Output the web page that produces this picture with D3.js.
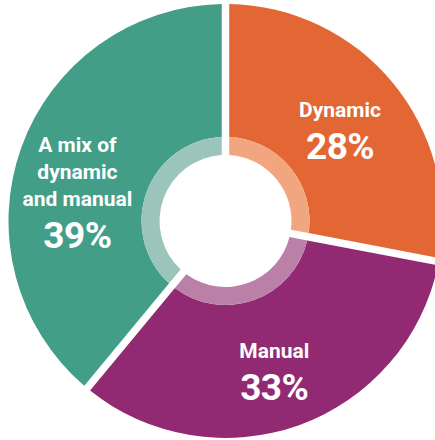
<!DOCTYPE html>
<html>
<head>
<meta charset="utf-8">
<script src="https://cdn.jsdelivr.net/npm/d3@7"></script>
<style>
  html, body { margin: 0; padding: 0; background: #fff; }
  svg { display: block; }
</style>
</head>
<body>
<svg id="chart" width="435" height="440"></svg>
<script>
// ---- data ----
const categories = ["Dynamic", "Manual", "A mix of dynamic and manual"];
const values = [28, 33, 39];
const labelLines = [["Dynamic"], ["Manual"], ["A mix of", "dynamic", "and manual"]];
const percentLabels = ["28%", "33%", "39%"];

// ---- styles / layout ----
const mainColors = ["#e26734", "#922a73", "#439e88"];
const ringColors = ["#f1a680", "#ba80a7", "#9bc5bb"];
const cx = 225.5, cy = 221;
const outerR = 217, ringOuterR = 84, innerR = 66;
const gap = 7.5;
const labelR = 150;
const labelShift = [[-1, 4.6], [-2, 9], [-7, 22]];

const svg = d3.select("#chart");
const g = svg.append("g").attr("transform", `translate(${cx},${cy})`);

const pie = d3.pie().sort(null).value(d => d.value);
const data = categories.map((c, i) => ({ name: c, value: values[i], i }));
const arcsData = pie(data);

const arcMain = d3.arc().innerRadius(ringOuterR).outerRadius(outerR)
  .padAngle(gap / outerR).padRadius(outerR);
const arcRing = d3.arc().innerRadius(innerR).outerRadius(ringOuterR)
  .padAngle(gap / outerR).padRadius(outerR);

g.selectAll("path.main").data(arcsData).join("path")
  .attr("class", "main")
  .attr("d", arcMain)
  .attr("fill", d => mainColors[d.data.i]);

g.selectAll("path.ring").data(arcsData).join("path")
  .attr("class", "ring")
  .attr("d", arcRing)
  .attr("fill", d => ringColors[d.data.i]);

const labelArc = d3.arc().innerRadius(labelR).outerRadius(labelR);
const nameSize = 21, pctSize = 37, lineH = 27, pctGap = 42, capH = 15;

arcsData.forEach(d => {
  const i = d.data.i;
  const [x0, y0] = labelArc.centroid(d);
  const lines = labelLines[i];
  const h = capH + lineH * (lines.length - 1) + pctGap;
  const x = x0 + labelShift[i][0];
  const centerY = y0 + labelShift[i][1];
  const firstBase = centerY - h / 2 + capH;
  const t = g.append("g").attr("font-family", "Roboto, 'Liberation Sans', sans-serif")
    .attr("font-weight", "bold").attr("fill", "#fff").attr("text-anchor", "middle");
  lines.forEach((ln, k) => {
    t.append("text").attr("x", x).attr("y", firstBase + k * lineH)
      .attr("font-size", nameSize).text(ln);
  });
  t.append("text").attr("x", x)
    .attr("y", firstBase + lineH * (lines.length - 1) + pctGap)
    .attr("font-size", pctSize).attr("letter-spacing", "-0.5").text(percentLabels[i]);
});
</script>
</body>
</html>
